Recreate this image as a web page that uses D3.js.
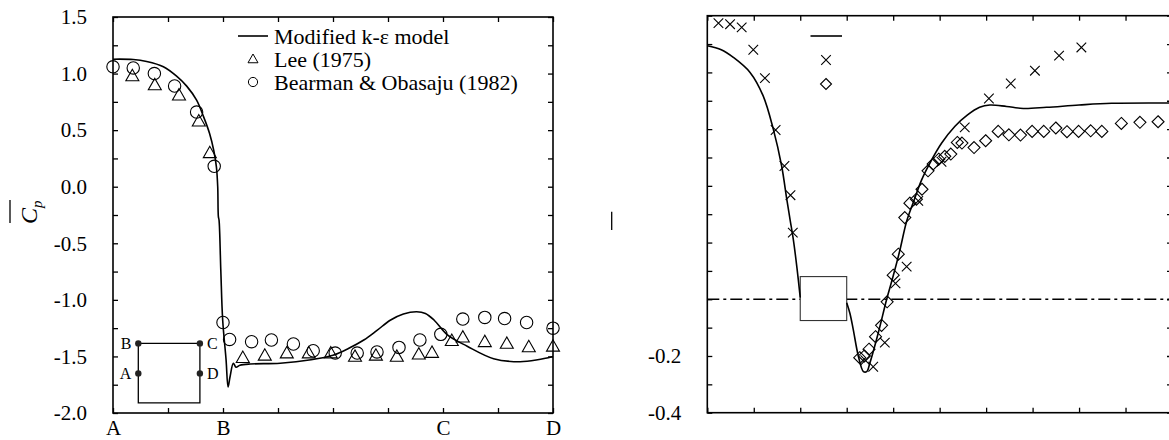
<!DOCTYPE html>
<html>
<head>
<meta charset="utf-8">
<script src="https://cdn.jsdelivr.net/npm/d3@7"></script>
<style>
  body { margin: 0; background: #fff; }
  svg { display: block; font-family: "Liberation Serif", "Times New Roman", serif; }
  .tick line { stroke: #000; stroke-width: 1.3; }
  .tick text { font-family: "Liberation Serif", "Times New Roman", serif; font-size: 21px; fill: #000; }
</style>
</head>
<body>
<div id="graph"></div>
<script>
// left panel: mean Cp around the cylinder surface A-B-C-D
var leftModelX = [0, 0.092, 0.153, 0.229, 0.289, 0.335, 0.38, 0.412, 0.439, 0.458, 0.47, 0.476, 0.479, 0.482, 0.49, 0.4986, 0.514, 0.523, 0.532, 0.547, 0.559, 0.577, 0.623, 0.76, 0.9, 1.0, 1.07, 1.14, 1.2, 1.26, 1.32, 1.38, 1.42, 1.46, 1.52, 1.61, 1.73, 1.85, 1.93, 2.0];
var leftModelY = [1.127, 1.124, 1.106, 1.06, 0.977, 0.889, 0.765, 0.617, 0.47, 0.32, 0.176, 0.0, -0.265, -0.295, -0.737, -1.18, -1.53, -1.77, -1.68, -1.56, -1.595, -1.578, -1.567, -1.56, -1.53, -1.49, -1.43, -1.355, -1.27, -1.18, -1.125, -1.105, -1.12, -1.18, -1.31, -1.41, -1.52, -1.547, -1.53, -1.50];

var leeX = [0.088, 0.19, 0.30, 0.39, 0.44, 0.59, 0.69, 0.79, 0.89, 0.99, 1.10, 1.195, 1.29, 1.39, 1.45, 1.54, 1.59, 1.69, 1.79, 1.89, 2.0];
var leeY = [0.98, 0.90, 0.81, 0.58, 0.30, -1.51, -1.49, -1.47, -1.47, -1.47, -1.50, -1.49, -1.50, -1.48, -1.465, -1.36, -1.33, -1.37, -1.385, -1.415, -1.41];

var bearmanX = [0, 0.092, 0.188, 0.28, 0.38, 0.46, 0.50, 0.53, 0.63, 0.72, 0.82, 0.91, 1.01, 1.11, 1.20, 1.30, 1.395, 1.49, 1.59, 1.69, 1.78, 1.88, 2.0];
var bearmanY = [1.06, 1.05, 1.00, 0.89, 0.66, 0.18, -1.20, -1.35, -1.37, -1.355, -1.39, -1.45, -1.47, -1.47, -1.46, -1.42, -1.355, -1.305, -1.17, -1.155, -1.165, -1.20, -1.25];

var leftYTicks = [-2.0, -1.75, -1.5, -1.25, -1.0, -0.75, -0.5, -0.25, 0, 0.25, 0.5, 0.75, 1.0, 1.25, 1.5];
var leftXTicks = [0, 0.25, 0.5, 0.75, 1.0, 1.25, 1.5, 1.75, 2.0];
var leftXLabels = ["A", "", "B", "", "", "", "C", "", "D"];

// cylinder sketch inside the left panel (left, right, top, middle, bottom)
var insetX = [0.115, 0.395];
var insetY = [-1.385, -1.65, -1.91];
var insetLabels = ["B", "C", "A", "D"];

var legendNames = ["Modified k-\u03b5 model", "Lee (1975)", "Bearman & Obasaju (1982)"];

// right panel
var rightModelAX = [0, 0.3, 0.56, 0.92, 1.2, 1.42, 1.6, 1.71, 1.78, 1.85, 1.93, 2.0];
var rightModelAY = [0.894, 0.88, 0.853, 0.80, 0.718, 0.60, 0.47, 0.353, 0.282, 0.212, 0.11, 0.006];
var rightModelBX = [3.0, 3.07, 3.14, 3.25, 3.36, 3.43, 3.5, 3.68, 3.86, 4.0, 4.14, 4.29, 4.43, 4.61, 4.79, 5.04, 5.33, 5.6, 5.86, 6.08, 6.44, 6.8, 7.3, 8.0, 8.7, 10];
var rightModelBY = [-0.012, -0.05, -0.106, -0.20, -0.255, -0.255, -0.224, -0.118, 0.0, 0.082, 0.17, 0.275, 0.34, 0.42, 0.48, 0.55, 0.61, 0.65, 0.677, 0.685, 0.68, 0.673, 0.677, 0.685, 0.691, 0.692];

var crossX = [0.24, 0.49, 0.74, 0.99, 1.24, 1.47, 1.66, 1.79, 1.84, 3.4, 3.57, 3.82, 4.05, 4.29, 4.54, 5.04, 5.54, 6.06, 6.53, 7.05, 7.57, 8.05];
var crossY = [0.974, 0.97, 0.959, 0.88, 0.78, 0.597, 0.47, 0.367, 0.235, -0.215, -0.238, -0.153, 0.056, 0.115, 0.347, 0.485, 0.606, 0.708, 0.761, 0.806, 0.859, 0.888];

var diamondX = [3.28, 3.38, 3.48, 3.62, 3.75, 3.87, 4.0, 4.11, 4.25, 4.36, 4.50, 4.62, 4.75, 4.86, 4.98, 5.11, 5.24, 5.38, 5.48, 5.74, 5.99, 6.26, 6.49, 6.74, 6.99, 7.24, 7.50, 7.74, 7.99, 8.25, 8.49, 8.91, 9.31, 9.70];
var diamondY = [-0.206, -0.20, -0.176, -0.132, -0.092, -0.009, 0.085, 0.159, 0.288, 0.339, 0.353, 0.388, 0.453, 0.477, 0.494, 0.504, 0.512, 0.553, 0.551, 0.535, 0.559, 0.592, 0.580, 0.579, 0.592, 0.592, 0.604, 0.591, 0.592, 0.594, 0.592, 0.620, 0.624, 0.626];

var rightYTicks = [-0.4, -0.3, -0.2, -0.1, 0, 0.1, 0.2, 0.3, 0.4, 0.5, 0.6, 0.7, 0.8, 0.9, 1.0];
var rightYLabels = ["-0.4", "", "-0.2", "", "", "", "", "", "", "", "", "", "", "", ""];
var rightXTicks = [0, 1, 2, 3, 4, 5, 6, 7, 8, 9, 10];

// body sketch in the right panel: [x0, x1], [y0, y1]
var boxX = [2, 3];
var boxY = [-0.075, 0.08];

var width = 1169;
var height = 440;

var svg = d3.select("#graph").
append("svg").
attr("width", width).
attr("height", height);

var zip = function (xs, ys) {return xs.map(function (x, i) {return [x, ys[i]];});};

var triangle = function (g, s) {return g.append("path").attr("d", "M0," + (-s) + "L" + (-s) + "," + (s * 0.75) + "L" + s + "," + (s * 0.75) + "Z");};
var diamond = function (g, s) {return g.append("path").attr("d", "M0," + (-s) + "L" + s + ",0L0," + s + "L" + (-s) + ",0Z");};
var cross = function (g, s) {return g.append("path").attr("d", "M" + (-s) + "," + (-s) + "L" + s + "," + s + "M" + (-s) + "," + s + "L" + s + "," + (-s));};

function frame(x, y, xTicks, yTicks, xLabels, yLabels) {
    var x0 = x.range()[0], x1 = x.range()[1], y0 = y.range()[0], y1 = y.range()[1];
    var byIndex = function (labels, ticks) {return function (d) {return labels ? labels[ticks.indexOf(d)] : "";};};

    svg.append("g").
    attr("transform", "translate(0," + y0 + ")").
    call(d3.axisBottom(x).tickValues(xTicks).tickSize(-5).tickPadding(7).tickFormat(byIndex(xLabels, xTicks))).
    call(function (g) {g.select(".domain").remove();});

    svg.append("g").
    attr("transform", "translate(0," + y1 + ")").
    call(d3.axisTop(x).tickValues(xTicks).tickSize(-5).tickFormat("")).
    call(function (g) {g.select(".domain").remove();});

    svg.append("g").
    attr("transform", "translate(" + x0 + ",0)").
    call(d3.axisLeft(y).tickValues(yTicks).tickSize(-5).tickPadding(26).tickFormat(byIndex(yLabels, yTicks))).
    call(function (g) {g.select(".domain").remove();});

    svg.append("g").
    attr("transform", "translate(" + x1 + ",0)").
    call(d3.axisRight(y).tickValues(yTicks).tickSize(-5).tickFormat("")).
    call(function (g) {g.select(".domain").remove();});

    svg.append("rect").
    attr("x", x0).
    attr("y", y1).
    attr("width", x1 - x0).
    attr("height", y0 - y1).
    attr("fill", "none").
    attr("stroke", "#000").
    attr("stroke-width", 1.6);
}

// ---------- left panel ----------
var xL = d3.scaleLinear().domain([0, 2]).range([113, 553]);
var yL = d3.scaleLinear().domain([-2, 1.5]).range([413, 17]);

var leftYLabels = leftYTicks.map(function (d) {return Math.abs(d * 2 - Math.round(d * 2)) < 1e-6 ? d.toFixed(1) : "";});
frame(xL, yL, leftXTicks, leftYTicks, leftXLabels, leftYLabels);

svg.append("path").
datum(zip(leftModelX, leftModelY).map(function (p) {return [xL(p[0]), yL(p[1])];})).
attr("d", d3.line().curve(d3.curveCatmullRom.alpha(0.5))).
attr("fill", "none").
attr("stroke", "#000").
attr("stroke-width", 1.6);

svg.append("g").
selectAll("g").
data(zip(leeX, leeY)).
enter().
append("g").
attr("transform", function (d) {return "translate(" + xL(d[0]) + "," + yL(d[1]) + ")";}).
each(function () {triangle(d3.select(this), 6.5);}).
selectAll("path").
attr("fill", "none").
attr("stroke", "#000").
attr("stroke-width", 1.1);

svg.append("g").
selectAll("circle").
data(zip(bearmanX, bearmanY)).
enter().
append("circle").
attr("cx", function (d) {return xL(d[0]);}).
attr("cy", function (d) {return yL(d[1]);}).
attr("r", 6.2).
attr("fill", "none").
attr("stroke", "#000").
attr("stroke-width", 1.1);

// cylinder sketch
var inset = svg.append("g");
inset.append("path").
attr("d", "M" + xL(insetX[0]) + "," + yL(insetY[0]) + "L" + xL(insetX[1]) + "," + yL(insetY[0]) +
"L" + xL(insetX[1]) + "," + yL(insetY[2]) + "L" + xL(insetX[0]) + "," + yL(insetY[2]) + "Z").
attr("fill", "none").
attr("stroke", "#000").
attr("stroke-width", 1.3);

var insetPts = [[insetX[0], insetY[0], -1], [insetX[1], insetY[0], 1], [insetX[0], insetY[1], -1], [insetX[1], insetY[1], 1]];
inset.selectAll("circle").
data(insetPts).
enter().
append("circle").
attr("cx", function (d) {return xL(d[0]);}).
attr("cy", function (d) {return yL(d[1]);}).
attr("r", 3.2).
attr("fill", "#222");

inset.selectAll("text").
data(insetPts).
enter().
append("text").
attr("x", function (d) {return xL(d[0]) + d[2] * 7;}).
attr("y", function (d) {return yL(d[1]) + 5.5;}).
attr("text-anchor", function (d) {return d[2] < 0 ? "end" : "start";}).
attr("font-size", 16).
text(function (d, i) {return insetLabels[i];});

// legend
var legL = svg.append("g").attr("transform", "translate(253,0)");
legL.append("line").attr("x1", -15).attr("x2", 15).attr("y1", 36).attr("y2", 36).attr("stroke", "#000").attr("stroke-width", 1.6);
triangle(legL.append("g").attr("transform", "translate(0,59)"), 5).attr("fill", "none").attr("stroke", "#000");
legL.append("circle").attr("cx", 0).attr("cy", 82).attr("r", 4.6).attr("fill", "none").attr("stroke", "#000");
legL.selectAll("text").
data(legendNames).
enter().
append("text").
attr("x", 21).
attr("y", function (d, i) {return 44 + i * 23;}).
attr("font-size", 22).
text(function (d) {return d;});

// y title: C with overbar, subscript p
var yTitle = svg.append("g").attr("transform", "translate(37,224) rotate(-90)");
yTitle.append("text").
attr("font-size", 24).
attr("font-style", "italic").
text("C").
append("tspan").
attr("font-size", 15).
attr("dy", 5).
text("p");
yTitle.append("line").attr("x1", 1).attr("x2", 24).attr("y1", -27).attr("y2", -27).attr("stroke", "#000").attr("stroke-width", 1.3);

// ---------- right panel ----------
var xR = d3.scaleLinear().domain([0, 10]).range([707.3, 1172]);
var yR = d3.scaleLinear().domain([-0.4, 1.0]).range([412.7, 15.7]);

frame(xR, yR, rightXTicks, rightYTicks, null, rightYLabels);

svg.append("line").
attr("x1", xR(0)).
attr("x2", xR(10)).
attr("y1", yR(0)).
attr("y2", yR(0)).
attr("stroke", "#000").
attr("stroke-width", 1.4).
attr("stroke-dasharray", "12,4,3,4");

svg.append("rect").
attr("x", xR(boxX[0])).
attr("y", yR(boxY[1])).
attr("width", xR(boxX[1]) - xR(boxX[0])).
attr("height", yR(boxY[0]) - yR(boxY[1])).
attr("fill", "#fff").
attr("stroke", "#333").
attr("stroke-width", 1.1);

[[rightModelAX, rightModelAY], [rightModelBX, rightModelBY]].forEach(function (s) {
    svg.append("path").
    datum(zip(s[0], s[1]).map(function (p) {return [xR(p[0]), yR(p[1])];})).
    attr("d", d3.line().curve(d3.curveCatmullRom.alpha(0.5))).
    attr("fill", "none").
    attr("stroke", "#000").
    attr("stroke-width", 1.6);
});

svg.append("g").
selectAll("g").
data(zip(crossX, crossY)).
enter().
append("g").
attr("transform", function (d) {return "translate(" + xR(d[0]) + "," + yR(d[1]) + ")";}).
each(function () {cross(d3.select(this), 4.8).attr("fill", "none").attr("stroke", "#000").attr("stroke-width", 1.1);});

svg.append("g").
selectAll("g").
data(zip(diamondX, diamondY)).
enter().
append("g").
attr("transform", function (d) {return "translate(" + xR(d[0]) + "," + yR(d[1]) + ")";}).
each(function () {diamond(d3.select(this), 6).attr("fill", "none").attr("stroke", "#000").attr("stroke-width", 1.1);});

var legR = svg.append("g").attr("transform", "translate(826,0)");
legR.append("line").attr("x1", -15.5).attr("x2", 16).attr("y1", 36).attr("y2", 36).attr("stroke", "#000").attr("stroke-width", 1.6);
cross(legR.append("g").attr("transform", "translate(0,60)"), 4.8).attr("stroke", "#000").attr("stroke-width", 1.1);
diamond(legR.append("g").attr("transform", "translate(0,84)"), 5.5).attr("fill", "none").attr("stroke", "#000").attr("stroke-width", 1.1);

// leftover bar of the right panel's ordinate title
svg.append("line").
attr("x1", 611.7).
attr("x2", 611.7).
attr("y1", 211.7).
attr("y2", 230).
attr("stroke", "#000").
attr("stroke-width", 1.3);
</script>
</body>
</html>
